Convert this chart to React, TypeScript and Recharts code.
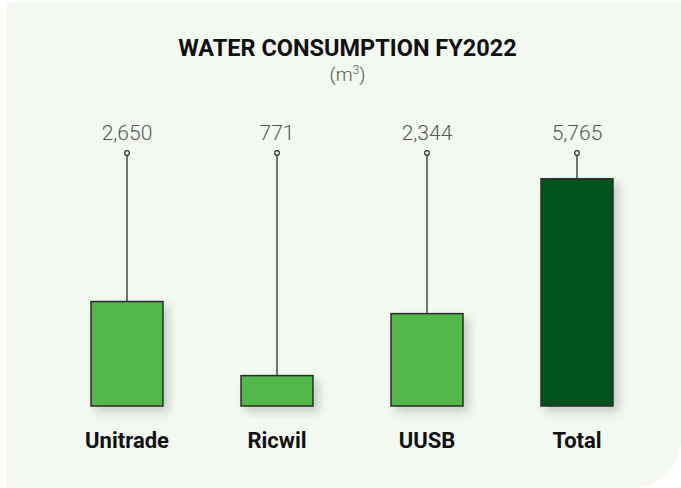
import { BarChart, Bar, XAxis, YAxis, Cell } from 'recharts';

const SITES = ['Unitrade', 'Ricwil', 'UUSB', 'Total'];
const CONSUMPTION = [2650, 771, 2344, 5765];
const FILLS = ['#52b74a', '#52b74a', '#52b74a', '#06531d'];

const data = SITES.map((site, i) => ({ site, value: CONSUMPTION[i] }));

const PLOT_TOP = 153;
const FONT = 'Roboto, "Noto Sans", sans-serif';

// bar + pin + value label, pin runs up to the top of the plot area
function PinBar(props: any) {
  const { x, y, width, height, fill, value, background } = props;
  const top = background && typeof background.y === 'number' ? background.y : PLOT_TOP;
  const cx = x + width / 2;
  return (
    <g>
      <rect x={x} y={y} width={width} height={height} fill={fill} stroke="#2b2b2b" strokeWidth={1.5} filter="url(#barShadow)" />
      <line x1={cx} x2={cx} y1={y} y2={top} stroke="#2b2b2b" strokeWidth={1.3} />
      <circle cx={cx} cy={top} r={2.3} fill="#fff" stroke="#2b2b2b" strokeWidth={1.2} />
      <text x={cx} y={top - 13} textAnchor="middle" fontFamily={FONT} fontWeight={300} fontSize={21} fill="#575757">
        {Number(value).toLocaleString('en-US')}
      </text>
    </g>
  );
}

function SiteTick(props: any) {
  const { x, y, payload } = props;
  return (
    <text x={x} y={y + 34} textAnchor="middle" fontFamily={FONT} fontWeight={700} fontSize={22} fill="#111">
      {payload.value}
    </text>
  );
}

export default function App() {
  return (
    <div style={{ position: 'absolute', left: 0, top: 0, width: 681, height: 488, background: '#fff', overflow: 'hidden' }}>
      <svg width={0} height={0} style={{ position: 'absolute' }}>
        <defs>
          <filter id="barShadow" x="-30%" y="-30%" width="170%" height="170%">
            <feDropShadow dx={5} dy={5} stdDeviation={5} floodColor="#000" floodOpacity={0.18} />
          </filter>
        </defs>
      </svg>
      <div
        style={{
          position: 'absolute',
          left: 7,
          top: 2,
          right: 0,
          bottom: 0,
          background: '#f3f8f1',
          borderBottomRightRadius: 48,
        }}
      />
      <div
        style={{
          position: 'absolute',
          left: 0,
          width: 695,
          top: 34,
          textAlign: 'center',
          fontFamily: FONT,
          fontWeight: 700,
          fontSize: 23.5,
          color: '#111',
        }}
      >
        WATER CONSUMPTION FY2022
      </div>
      <div
        style={{
          position: 'absolute',
          left: 0,
          width: 695,
          top: 63,
          textAlign: 'center',
          fontFamily: FONT,
          fontWeight: 300,
          fontSize: 19,
          color: '#555',
        }}
      >
        (m<sup style={{ fontSize: 12 }}>3</sup>)
      </div>
      <div style={{ position: 'absolute', left: 0, top: 0 }}>
        <BarChart width={681} height={488} data={data} margin={{ top: PLOT_TOP, right: 29, bottom: 42, left: 52 }}>
          <XAxis dataKey="site" axisLine={false} tickLine={false} height={40} tick={<SiteTick />} interval={0} />
          <YAxis hide domain={[0, 6420]} />
          <Bar dataKey="value" barSize={72} isAnimationActive={false} shape={<PinBar />}>
            {data.map((d, i) => (
              <Cell key={d.site} fill={FILLS[i]} />
            ))}
          </Bar>
        </BarChart>
      </div>
    </div>
  );
}
